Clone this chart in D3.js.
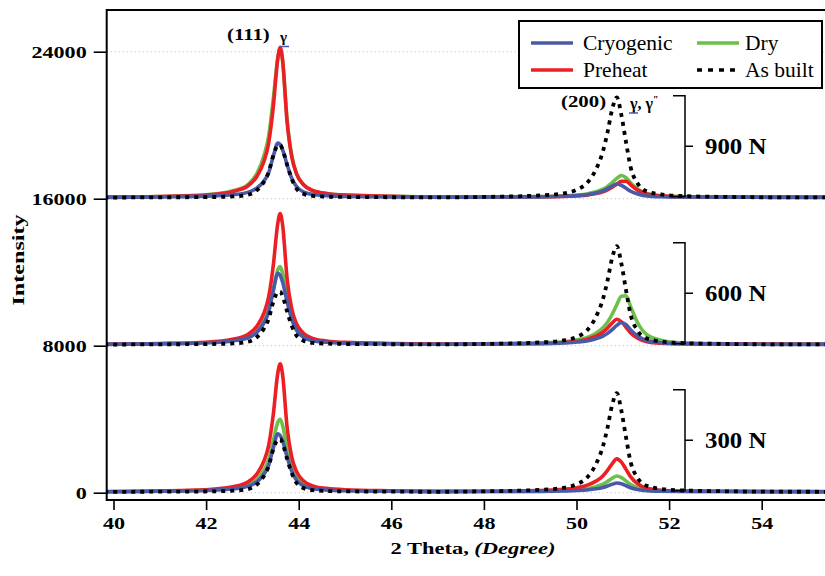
<!DOCTYPE html>
<html>
<head>
<meta charset="utf-8">
<script src="https://cdn.jsdelivr.net/npm/d3@7"></script>
<style>
  body { margin: 0; background: #fff; }
  svg { display: block; }
  svg text { font-family: "Liberation Serif", "Times New Roman", serif !important; }
</style>
</head>
<body>
<div id="chart"></div>
<script>
// 2 theta positions shared by every curve
var twoTheta = [39.8, 41.0, 42.0, 42.6, 42.9, 43.1, 43.25, 43.35, 43.45, 43.55,
  43.6, 43.65, 43.75, 43.85, 43.95, 44.1, 44.3, 44.6, 45.0, 46.0,
  47.0, 48.0, 49.22, 49.72, 50.02, 50.22, 50.42, 50.57, 50.67, 50.77,
  50.87, 50.97, 51.07, 51.17, 51.32, 51.52, 51.82, 52.22, 53.22, 54.2, 55.5];

var loads = ["300 N", "600 N", "900 N"];
var offsets = [0, 8000, 16000];

// intensities above each load's offset
var cryo300 = [50, 79, 123, 218, 344, 596, 1005, 1478, 2423, 3210, 3116, 2832, 1950, 1163, 690, 375, 218, 148, 107, 82,
  60, 65, 74, 93, 116, 149, 210, 286, 366, 460, 530, 483, 380, 272, 173, 107, 79, 69, 65, 55, 50];
var dry300 = [55, 84, 139, 257, 415, 730, 1242, 1794, 2818, 3842, 4000, 3685, 2424, 1439, 848, 454, 257, 170, 119, 88,
  65, 70, 86, 120, 162, 222, 332, 468, 613, 783, 910, 825, 638, 443, 264, 145, 94, 77, 69, 60, 55];
var preheat300 = [65, 95, 164, 338, 582, 1034, 1730, 2566, 4236, 6533, 7020, 6463, 3540, 1939, 1174, 652, 373, 234, 157, 102,
  70, 80, 113, 185, 274, 398, 630, 914, 1217, 1573, 1840, 1662, 1270, 861, 487, 238, 131, 96, 78, 65, 60];
var built300 = [45, 56, 67, 108, 194, 453, 914, 1432, 2354, 2901, 2930, 2700, 1836, 1058, 540, 252, 136, 93, 73, 59,
  50, 75, 157, 265, 480, 802, 1554, 2520, 3541, 4776, 5420, 4453, 3004, 1661, 802, 372, 211, 131, 77, 55, 50];

var cryo600 = [70, 103, 157, 273, 427, 736, 1238, 1817, 2975, 3940, 3824, 3477, 2396, 1431, 852, 466, 273, 188, 138, 107,
  80, 92, 115, 151, 198, 257, 375, 517, 670, 871, 1107, 1260, 1142, 859, 528, 281, 163, 115, 92, 75, 70];
var dry600 = [75, 105, 165, 292, 461, 799, 1349, 1941, 3041, 4141, 4310, 3972, 2618, 1561, 926, 503, 292, 198, 143, 110,
  95, 110, 162, 216, 325, 434, 678, 978, 1277, 1712, 2229, 2691, 2718, 2120, 1250, 597, 298, 162, 107, 90, 85];
var preheat600 = [85, 116, 187, 364, 613, 1075, 1786, 2640, 4346, 6692, 7190, 6621, 3635, 2000, 1218, 684, 400, 258, 180, 123,
  90, 95, 121, 175, 243, 338, 515, 733, 964, 1236, 1440, 1304, 1005, 692, 406, 216, 134, 107, 94, 85, 80];
var built600 = [60, 76, 87, 128, 214, 473, 934, 1452, 2374, 2921, 2950, 2720, 1856, 1078, 560, 272, 156, 113, 93, 79,
  70, 95, 177, 284, 498, 819, 1568, 2531, 3548, 4778, 5420, 4457, 3013, 1675, 819, 391, 231, 150, 97, 75, 70];

var cryo900 = [70, 98, 139, 228, 346, 582, 965, 1408, 2293, 3030, 2942, 2676, 1850, 1113, 670, 375, 228, 163, 124, 101,
  80, 87, 102, 130, 166, 217, 310, 426, 548, 692, 800, 728, 570, 404, 253, 152, 109, 94, 87, 75, 70];
var dry900 = [75, 120, 210, 445, 769, 1376, 2348, 3401, 5426, 7694, 8180, 7532, 4292, 2348, 1376, 769, 445, 283, 193, 129,
  95, 100, 115, 151, 198, 257, 375, 517, 670, 871, 1107, 1260, 1142, 859, 528, 281, 163, 115, 92, 90, 85];
var preheat900 = [85, 120, 202, 406, 691, 1221, 2036, 3014, 4970, 7660, 8230, 7578, 4155, 2280, 1384, 773, 447, 284, 194, 129,
  90, 95, 107, 125, 161, 197, 278, 377, 476, 620, 791, 944, 953, 755, 467, 251, 152, 107, 89, 85, 80];
var built900 = [60, 76, 87, 127, 213, 469, 925, 1438, 2350, 2892, 2920, 2692, 1837, 1068, 555, 270, 156, 113, 93, 79,
  70, 95, 179, 288, 506, 833, 1596, 2577, 3613, 4866, 5520, 4539, 3068, 1705, 833, 397, 234, 152, 97, 75, 70];

var seriesNames = ["Cryogenic", "Dry", "Preheat", "As built"];
var seriesColors = ["#4b5aa8", "#6cbf4a", "#ec1f25", "#000000"];
var yTicks = [0, 8000, 16000, 24000];
var xTicks = [40, 42, 44, 46, 48, 50, 52, 54];

var table = [
  [cryo300, dry300, preheat300, built300],
  [cryo600, dry600, preheat600, built600],
  [cryo900, dry900, preheat900, built900]
];

var W = 825, H = 576;
var pLeft = 106.7, pTop = 10, pRight = 825, pBottom = 500;

var svg = d3.select('#chart')
    .append('svg')
    .attr('width', W)
    .attr('height', H);

var x = d3.scaleLinear().domain([39.853, 55.367]).range([pLeft, pRight]);
var y = d3.scaleLinear().domain([-397, 26270]).range([pBottom, pTop]);

// the figure's lettering is wider than Times, stretch it a bit
function widen(sel, k) {
    sel.each(function () {
        var w = this.getComputedTextLength();
        d3.select(this).attr('textLength', w * k).attr('lengthAdjust', 'spacingAndGlyphs');
    });
}

svg.append('defs').append('clipPath').attr('id', 'plot')
    .append('rect')
    .attr('x', pLeft).attr('y', pTop)
    .attr('width', pRight - pLeft).attr('height', pBottom - pTop);

// dotted grid at the y ticks
svg.append('g').selectAll('line')
    .data(yTicks)
    .enter().append('line')
    .attr('x1', pLeft).attr('x2', pRight)
    .attr('y1', function (d) { return y(d); })
    .attr('y2', function (d) { return y(d); })
    .attr('stroke', '#b5b5b5')
    .attr('stroke-width', 1)
    .attr('stroke-dasharray', '1,3');

// curves: for each load draw Dry, Preheat, Cryogenic, As built
var line = d3.line()
    .x(function (d) { return x(d[0]); })
    .y(function (d) { return y(d[1]); })
    .curve(d3.curveMonotoneX);

var order = [1, 2, 0, 3];
var curves = svg.append('g').attr('clip-path', 'url(#plot)');
table.forEach(function (row, li) {
    order.forEach(function (si) {
        var pts = twoTheta.map(function (t, i) { return [t, row[si][i] + offsets[li]]; });
        curves.append('path')
            .attr('d', line(pts))
            .attr('fill', 'none')
            .attr('stroke', seriesColors[si])
            .attr('stroke-width', si === 3 ? 3.8 : 3.6)
            .attr('stroke-dasharray', si === 3 ? '4,5' : null)
            .attr('stroke-linejoin', 'round');
    });
});

// axes
var yAxis = svg.append('g')
    .attr('transform', 'translate(' + pLeft + ',0)')
    .call(d3.axisLeft(y).tickValues(yTicks).tickSize(13).tickPadding(7).tickFormat(d3.format('d')));
var xAxis = svg.append('g')
    .attr('transform', 'translate(0,' + pBottom + ')')
    .call(d3.axisBottom(x).tickValues(xTicks).tickSize(10).tickPadding(7));

[yAxis, xAxis].forEach(function (a) {
    a.select('.domain').remove();
    a.selectAll('line').attr('stroke', '#000').attr('stroke-width', 1.6);
    a.selectAll('text')
        .attr('fill', '#000')
        .style('font-size', '17px')
        .style('font-weight', 'bold')
        .call(widen, 1.3);
});

// frame
svg.append('path')
    .attr('d', 'M' + pRight + ',' + pTop + 'H' + pLeft + 'V' + pBottom + 'H' + pRight)
    .attr('fill', 'none')
    .attr('stroke', '#000')
    .attr('stroke-width', 2);

// axis titles
svg.append('text')
    .attr('transform', 'translate(24,260) rotate(-90)')
    .attr('text-anchor', 'middle')
    .style('font-size', '17px')
    .style('font-weight', 'bold')
    .text('Intensity')
    .call(widen, 1.42);

var xt = svg.append('text')
    .attr('x', 473).attr('y', 554)
    .attr('text-anchor', 'middle')
    .style('font-size', '17px')
    .style('font-weight', 'bold');
xt.append('tspan').text('2 Theta,  ');
xt.append('tspan').style('font-style', 'italic').text('(Degree)');
xt.call(widen, 1.32);

// load brackets
var brackets = svg.append('g');
loads.forEach(function (name, li) {
    var y0 = y(offsets[li] + 100), y1 = y(offsets[li] + 5600), ym = (y0 + y1) / 2;
    brackets.append('path')
        .attr('d', 'M673,' + y1 + 'H685V' + y0 + 'H673M685,' + ym + 'H693')
        .attr('fill', 'none')
        .attr('stroke', '#000')
        .attr('stroke-width', 1.5);
    brackets.append('text')
        .attr('x', 705).attr('y', ym + 8)
        .style('font-size', '23px')
        .style('font-weight', 'bold')
        .text(name)
        .call(widen, 1.08);
});

// peak labels
function label(px, py, txt, size) {
    return svg.append('text')
        .attr('x', px).attr('y', py)
        .style('font-size', size + 'px')
        .style('font-weight', 'bold')
        .text(txt);
}
label(227, 40, '(111)', 16).call(widen, 1.3);
label(280, 42, 'γ', 15);
label(561, 107, '(200)', 16).call(widen, 1.3);
var g2 = label(630, 109, 'γ, γ', 16);
g2.append('tspan').attr('dy', -6).style('font-size', '10px').text('″');
svg.append('line').attr('x1', 279).attr('x2', 289).attr('y1', 46.5).attr('y2', 46.5)
    .attr('stroke', '#4b5aa8').attr('stroke-width', 1.5);
svg.append('line').attr('x1', 629).attr('x2', 638).attr('y1', 113).attr('y2', 113)
    .attr('stroke', '#4b5aa8').attr('stroke-width', 1.5);

// legend
var legend = svg.append('g');
legend.append('rect')
    .attr('x', 519).attr('y', 21)
    .attr('width', 303).attr('height', 67)
    .attr('fill', '#fff')
    .attr('stroke', '#000')
    .attr('stroke-width', 2);
var legendPos = [[531, 43], [697, 43], [531, 70], [697, 70]];
seriesNames.forEach(function (name, i) {
    var p = legendPos[i];
    legend.append('line')
        .attr('x1', p[0]).attr('x2', p[0] + 42)
        .attr('y1', p[1]).attr('y2', p[1])
        .attr('stroke', seriesColors[i])
        .attr('stroke-width', 3.4)
        .attr('stroke-dasharray', i === 3 ? '5,6' : null);
    legend.append('text')
        .attr('x', p[0] + (i % 2 === 0 ? 52 : 48)).attr('y', p[1] + 7)
        .style('font-size', '21.5px')
        .text(name);
});
</script>
</body>
</html>
